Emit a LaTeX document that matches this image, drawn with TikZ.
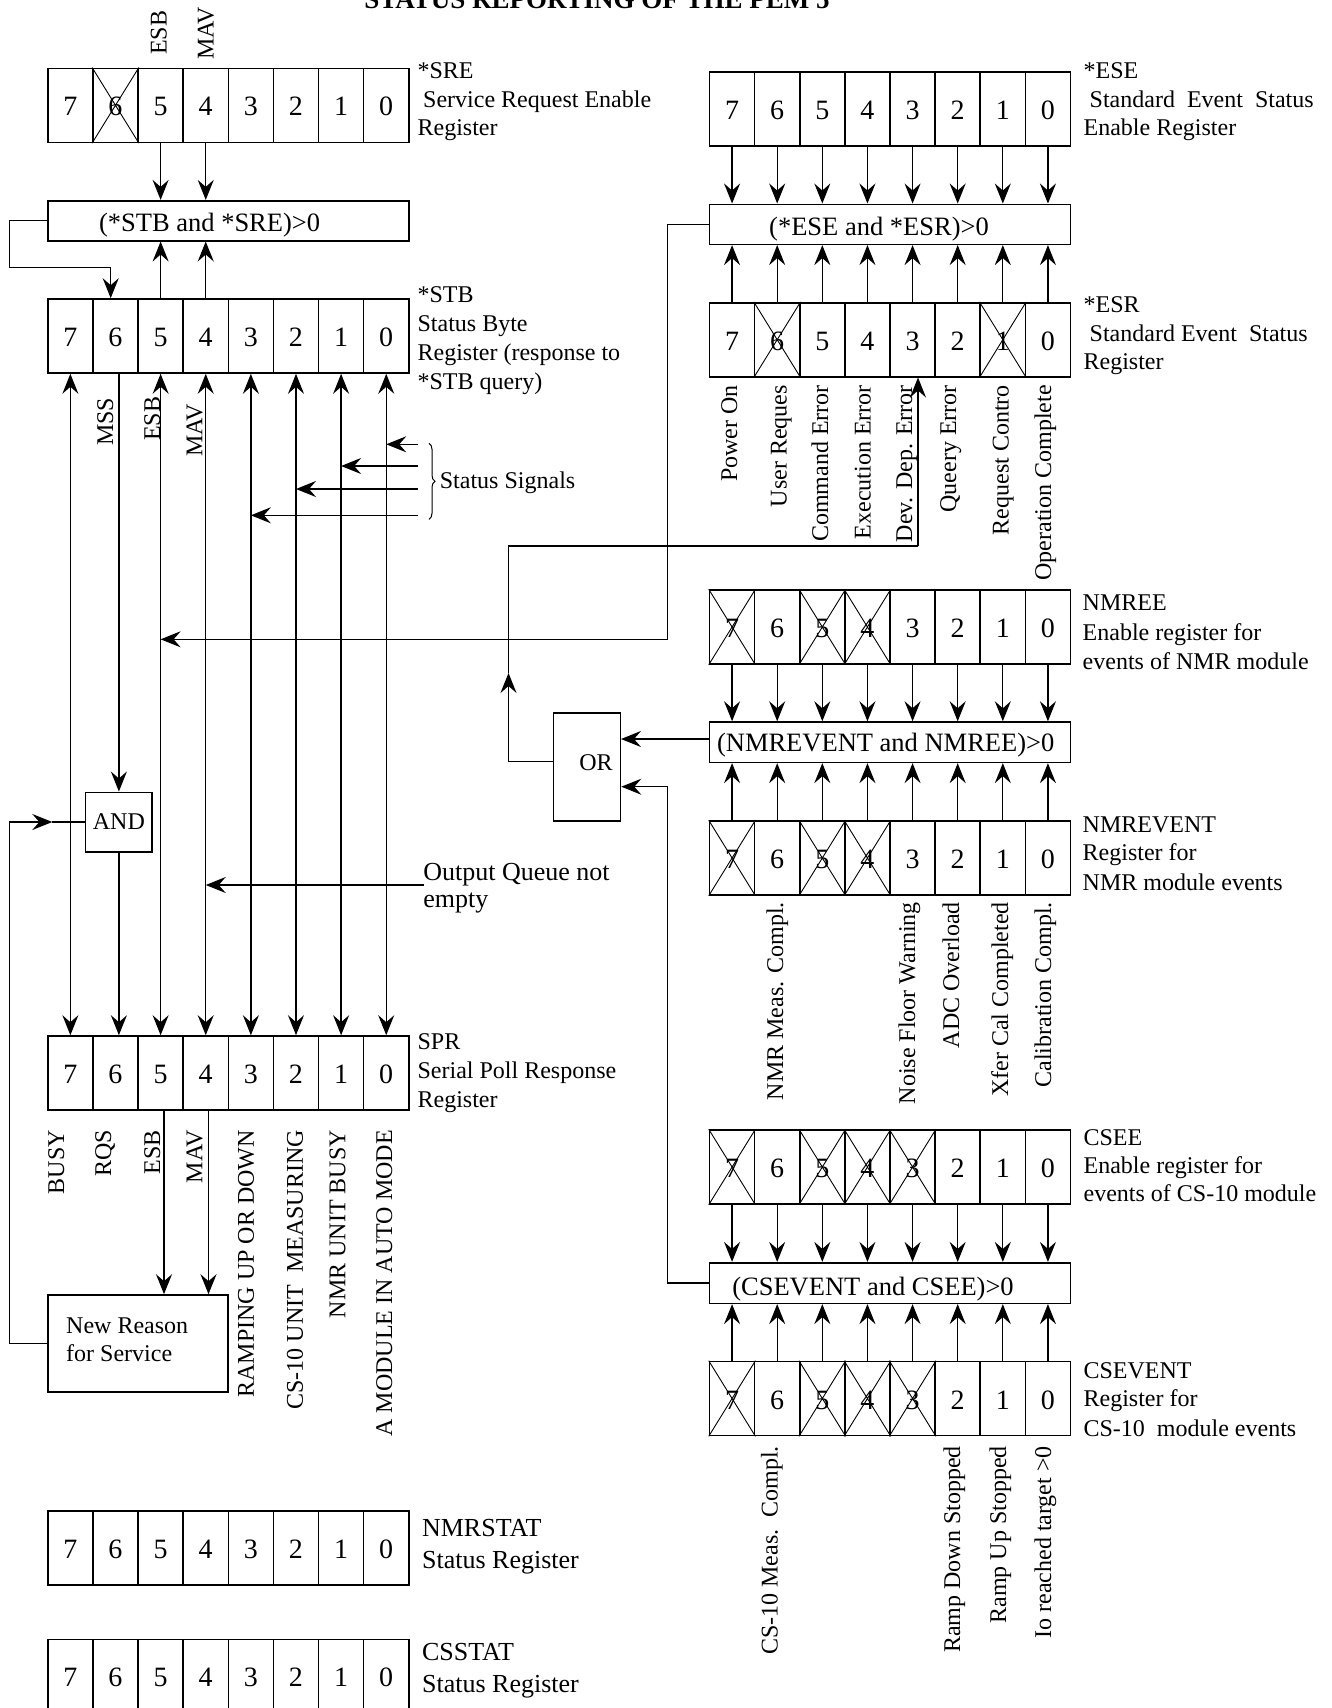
\documentclass[tikz,border=0pt]{standalone}
\usepackage{fontspec}
\setmainfont{Liberation Serif}
\usetikzlibrary{arrows.meta,decorations.pathreplacing}

\newcommand\digfont{\fontsize{28}{28}\selectfont}
\newcommand\labfont{\fontsize{24}{28}\selectfont}
\newcommand\bigfont{\fontsize{26}{30}\selectfont}
\newcommand\boxfont{\fontsize{26.5}{30}\selectfont}

\tikzset{
  ln/.style={line width=1.3pt},
  arr/.style={ln, -{Stealth[length=20pt,width=16pt,inset=7pt]}},
  darr/.style={ln, {Stealth[length=20pt,width=16pt,inset=7pt]}-{Stealth[length=20pt,width=16pt,inset=7pt]}},
  cell/.style={draw, line width=1.6pt, minimum width=45.125pt, minimum height=74pt, inner sep=0pt, text height=21pt, text depth=0pt, font=\digfont},
  xline/.style={line width=0.9pt},
  gbox/.style={draw, line width=1.6pt, inner sep=0pt},
  lab/.style={font=\labfont, anchor=base west, inner sep=0pt},
  blab/.style={font=\bigfont, anchor=base west, inner sep=0pt},
  btxt/.style={font=\boxfont, anchor=base, inner sep=0pt},
  rl/.style={font=\labfont, rotate=90, anchor=east, inner sep=0pt, text height=17pt, text depth=5pt},
  rlw/.style={font=\labfont, rotate=90, anchor=west, inner sep=0pt, text height=17pt, text depth=5pt},
}

\newcommand\regrow[3]{%
  \foreach \b in {7,6,...,0}{%
    \node[cell] (#1-\b) at ({#2+(7.5-\b)*45.125},{#3+37}) {\b};
  }%
}
\newcommand\xcell[1]{\draw[xline] (#1.north west) -- (#1.south east) (#1.north east) -- (#1.south west);}
\newcommand\lb[5][lab]{\node[#1] (#2) at (#3,#4) {#5};}

\begin{document}
\begin{tikzpicture}[x=1pt,y=-1pt]
\useasboundingbox (0,0) rectangle (1331,1708);
\clip (0,0) rectangle (1331,1708);
\fill[white] (0,0) rectangle (1331,1708);

\node[font=\bfseries\fontsize{27}{27}\selectfont, anchor=base, inner sep=0pt] (title) at (597,8.5) {STATUS REPORTING OF THE PEM 5};

% ---------------- registers
\regrow{sre}{47.8}{68.3}
\regrow{stb}{47.8}{299}
\regrow{spr}{47.8}{1036}
\regrow{nmrstat}{47.8}{1510.7}
\regrow{csstat}{47.8}{1639.3}
\regrow{ese}{709.5}{71.7}
\regrow{esr}{709.5}{302.7}
\regrow{nmree}{709.5}{590}
\regrow{nmrev}{709.5}{821}
\regrow{csee}{709.5}{1130}
\regrow{csev}{709.5}{1361.5}

\xcell{sre-6}
\xcell{esr-6}\xcell{esr-1}
\xcell{nmree-7}\xcell{nmree-5}\xcell{nmree-4}
\xcell{nmrev-7}\xcell{nmrev-5}\xcell{nmrev-4}
\xcell{csee-7}\xcell{csee-5}\xcell{csee-4}\xcell{csee-3}
\xcell{csev-7}\xcell{csev-5}\xcell{csev-4}\xcell{csev-3}

% ---------------- logic boxes
\node[gbox, minimum width=361.1pt, minimum height=40pt] (sreand) at (228.35,220.7) {};
\node[btxt] (sreandt) at (209.6,231) {(*STB and *SRE)>0};
\node[gbox, minimum width=360.9pt, minimum height=40pt] (eseand) at (889.95,224.3) {};
\node[btxt] (eseandt) at (879,235) {(*ESE and *ESR)>0};
\node[gbox, minimum width=360.9pt, minimum height=40.3pt] (nmrand) at (889.95,742.2) {};
\node[btxt] (nmrandt) at (885.7,751) {(NMREVENT and NMREE)>0};
\node[gbox, minimum width=360.9pt, minimum height=40.6pt] (csand) at (889.95,1283) {};
\node[btxt] (csandt) at (873,1295) {(CSEVENT and CSEE)>0};
\node[gbox, minimum width=66.9pt, minimum height=108.3pt] (orbox) at (587.05,766.85) {};
\node[font=\labfont, anchor=base, inner sep=0pt] (ort) at (596,770.7) {OR};
\node[gbox, minimum width=66.7pt, minimum height=59.4pt, font=\labfont] (andbox) at (118.9,822) {AND};
\node[gbox, minimum width=179.9pt, minimum height=96.8pt] (nrs) at (137.75,1343.4) {};
\lb{nrs1}{66}{1333.5}{New Reason}
\lb{nrs2}{66}{1361}{for Service}

% ---------------- labels, left
\lb{sreL1}{417.4}{78.3}{*SRE}
\lb{sreL2}{423}{107.5}{Service Request Enable}
\lb{sreL3}{417.4}{135.5}{Register}
\lb{stbL1}{417.4}{302.5}{*STB}
\lb{stbL2}{417.4}{331}{Status Byte}
\lb{stbL3}{417.4}{360.5}{Register (response to}
\lb{stbL4}{417.4}{389.5}{*STB query)}
\lb{ssL}{439.7}{488}{Status Signals}
\lb[blab]{oqL1}{423.2}{880}{Output Queue not}
\lb[blab]{oqL2}{423.2}{907}{empty}
\lb{sprL1}{417.4}{1049.6}{SPR}
\lb{sprL2}{417.4}{1078}{Serial Poll Response}
\lb{sprL3}{417.4}{1107}{Register}
\lb[blab]{nsL1}{421.9}{1536}{NMRSTAT}
\lb[blab]{nsL2}{421.9}{1568}{Status Register}
\lb[blab]{csL1}{421.9}{1660}{CSSTAT}
\lb[blab]{csL2}{421.9}{1692.5}{Status Register}

% ---------------- labels, right
\lb{eseL1}{1083.4}{78.3}{*ESE}
\lb{eseL2}{1089.5}{107.3}{Standard\ \ Event\ \ Status}
\lb{eseL3}{1083.4}{135}{Enable Register}
\lb{esrL1}{1083.4}{312.7}{*ESR}
\lb{esrL2}{1089.5}{341.7}{Standard Event\ \ Status}
\lb{esrL3}{1083.4}{369}{Register}
\lb{neeL1}{1082.5}{610.4}{NMREE}
\lb{neeL2}{1082.5}{640.5}{Enable register for}
\lb{neeL3}{1082.5}{669.5}{events of NMR module}
\lb{nevL1}{1082.5}{832}{NMREVENT}
\lb{nevL2}{1082.5}{860}{Register for}
\lb{nevL3}{1082.5}{890}{NMR module events}
\lb{ceeL1}{1083.4}{1145}{CSEE}
\lb{ceeL2}{1083.4}{1173.3}{Enable register for}
\lb{ceeL3}{1083.4}{1201.7}{events of CS-10 module}
\lb{cevL1}{1083.4}{1378}{CSEVENT}
\lb{cevL2}{1083.4}{1406.7}{Register for}
\lb{cevL3}{1083.4}{1436.7}{CS-10\ \ module events}

% ---------------- rotated labels
\node[rlw] (tESB) at (160.7,55) {ESB};
\node[rlw] (tMAV) at (207.6,60) {MAV};
\node[rlw] (mMSS) at (107,446) {MSS};
\node[rlw] (mESB) at (154,441) {ESB};
\node[rlw] (mMAV) at (196.4,457) {MAV};

\node[rl] (bBUSY) at (58,1130) {BUSY};
\node[rl] (bRQS) at (105,1130) {RQS};
\node[rl] (bESB) at (154,1130) {ESB};
\node[rl] (bMAV) at (196.4,1130) {MAV};
\node[rl] (bRAMP) at (247.8,1130) {RAMPING UP OR DOWN};
\node[rl] (bCS) at (296.9,1130) {CS-10 UNIT\ \ MEASURING};
\node[rl] (bNMR) at (339.3,1130) {NMR UNIT BUSY};
\node[rl] (bAUTO) at (386.2,1130) {A MODULE IN AUTO MODE};

\node[rl] (r7) at (731,385) {Power On};
\node[rl] (r6) at (780.6,385) {User Reques};
\node[rl] (r5) at (822,385) {Command Error};
\node[rl] (r4) at (864.5,385) {Execution Error};
\node[rl] (r3) at (906,385) {Dev. Dep. Error};
\node[rl] (r2) at (950,385) {Queery Error};
\node[rl] (r1) at (1002.5,385) {Request Contro};
\node[rl] (r0) at (1045,385) {Operation Complete};

\node[rl] (n6) at (777,902) {NMR Meas. Compl.};
\node[rl] (n3) at (909,902) {Noise Floor Warning};
\node[rl] (n2) at (953,902) {ADC Overload};
\node[rl] (n1) at (1002,902) {Xfer Cal Completed};
\node[rl] (n0) at (1045,902) {Calibration Compl.};

\node[rl] (c6) at (771.6,1446) {CS-10 Meas.\ \ Compl.};
\node[rl] (c2) at (954,1446) {Ramp Down Stopped};
\node[rl] (c1) at (1000,1446) {Ramp Up Stopped};
\node[rl] (c0) at (1045,1446) {Io reached target >0};

% ---------------- connectors
\foreach \b in {5,4} {
  \draw[arr] (sre-\b.south) -- (sre-\b.south |- sreand.north);
  \draw[arr] (stb-\b.north) -- (stb-\b.north |- sreand.south);
}
\coordinate (lpA) at (9.8,267.7);
\coordinate (lpB) at (110.7,267.7);
\draw[arr] (sreand.west) -| (lpA) -- (lpB) -- (lpB |- stb-6.north);

\foreach \b in {7,6,...,0} {
  \draw[arr] (ese-\b.south) -- (ese-\b.south |- eseand.north);
  \draw[arr] (esr-\b.north) -- (esr-\b.north |- eseand.south);
  \draw[arr] (nmree-\b.south) -- (nmree-\b.south |- nmrand.north);
  \draw[arr] (nmrev-\b.north) -- (nmrev-\b.north |- nmrand.south);
  \draw[arr] (csee-\b.south) -- (csee-\b.south |- csand.north);
  \draw[arr] (csev-\b.north) -- (csev-\b.north |- csand.south);
}

\foreach \b in {7,5,4,3,2,1,0} \draw[darr] (stb-\b.south) -- (spr-\b.north);
\draw[arr] (andbox.north |- stb-6.south) -- (andbox.north);
\draw[arr] (andbox.south) -- (andbox.south |- spr-6.north);

\foreach \b/\y in {0/444.3,1/466,2/489,3/515.3} {
  \coordinate (ss\b) at (417.7,\y);
  \draw[arr] (ss\b) -- (ss\b -| stb-\b.south);
}
\draw[line width=1pt, decorate, decoration={brace, amplitude=6pt}] (429,443.3) -- (429,519.3);

\coordinate (esbc) at (667.4,639.3);
\draw[arr] (eseand.west) -| (esbc) -- (esbc -| stb-5.south);

\coordinate (oqs) at (424,885);
\draw[arr] (oqs) -- (oqs -| stb-4.south);

\coordinate (orin1) at (621,739);
\draw[arr] (orin1 -| nmrand.west) -- (orin1);
\coordinate (csc) at (667.4,786.7);
\draw[arr] (csand.west) -| (csc) -- (csc -| orbox.east);

\coordinate (or1) at (508.5,761.5);
\coordinate (ormid) at (508.5,673);
\coordinate (or2) at (508.5,546);
\coordinate (or3) at (918,546);
\draw[arr] (or1 -| orbox.west) -- (or1) -- (ormid);
\draw[ln] (ormid) -- (or2) -- (or3);
\draw[arr] (or3) -- (or3 |- esr-3.south);

\coordinate (andc) at (9.8,822);
\coordinate (andm) at (52.3,822);
\draw[arr] (nrs.west) -| (andc) -- (andm);
\draw[ln] (andm) -- (andbox.west);

\coordinate (nr5) at (164,1110);
\coordinate (nr4) at (208.5,1110);
\draw[arr] (nr5) -- (nr5 |- nrs.north);
\draw[arr] (nr4) -- (nr4 |- nrs.north);
\end{tikzpicture}
\end{document}
